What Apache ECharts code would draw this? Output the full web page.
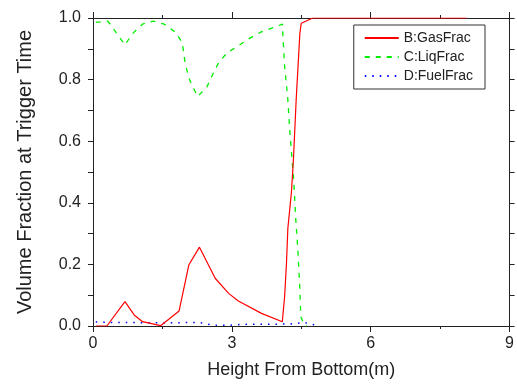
<!DOCTYPE html>
<html>
<head>
<meta charset="utf-8">
<script src="https://cdn.jsdelivr.net/npm/echarts@6/dist/echarts.min.js"></script>
<style>
html,body{margin:0;padding:0;background:#fff;}
#chart{width:517px;height:385px;}
</style>
</head>
<body>
<div id="chart"></div>
<script>
// Data
var gasX = [0.06, 0.30, 0.69, 0.89, 1.07, 1.46, 1.86, 2.07, 2.30, 2.64, 2.93, 3.14, 3.64, 4.09, 4.14, 4.18, 4.21, 4.25, 4.29, 4.33, 4.36, 4.39, 4.43, 4.47, 4.50, 4.75, 5.5, 6.5, 7.5, 8.07];
var gasFrac = [0.0, 0.0, 0.079, 0.036, 0.014, 0.001, 0.049, 0.198, 0.256, 0.155, 0.106, 0.081, 0.041, 0.014, 0.095, 0.204, 0.317, 0.377, 0.44, 0.54, 0.637, 0.735, 0.843, 0.951, 0.983, 1.0, 1.0, 1.0, 1.0, 1.0];

var liqX = [0.06, 0.32, 0.69, 0.86, 1.07, 1.30, 1.54, 1.79, 1.93, 1.99, 2.07, 2.26, 2.46, 2.57, 2.71, 2.89, 3.14, 3.36, 3.61, 3.86, 4.09, 4.14, 4.21, 4.25, 4.34, 4.38, 4.43, 4.47, 4.49, 4.57, 4.62];
var liqFrac = [0.986, 0.99, 0.913, 0.95, 0.98, 0.99, 0.98, 0.953, 0.919, 0.854, 0.805, 0.745, 0.776, 0.812, 0.854, 0.886, 0.91, 0.932, 0.953, 0.967, 0.98, 0.843, 0.735, 0.637, 0.465, 0.35, 0.237, 0.117, 0.03, 0.001, 0.0];

var fuelX = [0.06, 0.5, 1.0, 1.5, 2.0, 2.3, 2.6, 2.9, 3.2, 3.6, 4.0, 4.3, 4.57, 4.87];
var fuelFrac = [0.013, 0.011, 0.011, 0.010, 0.011, 0.011, 0.003, 0.002, 0.005, 0.006, 0.006, 0.007, 0.011, 0.001];

var seriesNames = ['B:GasFrac', 'C:LiqFrac', 'D:FuelFrac'];
var xTitle = 'Height From Bottom(m)';
var yTitle = 'Volume Fraction at Trigger Time';

function pairs(xs, ys) { return xs.map(function (x, i) { return [x, ys[i]]; }); }

var FONT = 'Liberation Sans';
var axisCol = '#222';
var chart = echarts.init(document.getElementById('chart'), null, {renderer: 'canvas'});

function xAx(pos, show) {
  return {
    type: 'value', position: pos, min: 0, max: 9, interval: 3,
    name: show ? xTitle : '', nameLocation: 'middle', nameGap: 35,
    nameTextStyle: {fontFamily: FONT, fontSize: 18, color: '#222'},
    axisLine: {show: true, onZero: false, lineStyle: {color: axisCol, width: 1}},
    axisTick: {show: true, inside: false, length: 6, lineStyle: {color: axisCol}},
    minorTick: {show: true, splitNumber: 2, length: 3, lineStyle: {color: axisCol}},
    axisLabel: {show: show, margin: 10, fontFamily: FONT, fontSize: 16, color: '#222'},
    splitLine: {show: false}
  };
}
function yAx(pos, show) {
  return {
    type: 'value', position: pos, min: 0, max: 1, interval: 0.2,
    name: show ? yTitle : '', nameLocation: 'middle', nameGap: 58, nameRotate: 90,
    nameTextStyle: {fontFamily: FONT, fontSize: 20, color: '#222'},
    axisLine: {show: true, onZero: false, lineStyle: {color: axisCol, width: 1}},
    axisTick: {show: true, inside: false, length: 5, lineStyle: {color: axisCol}},
    minorTick: {show: true, splitNumber: 2, length: 5, lineStyle: {color: axisCol}},
    axisLabel: {show: show, margin: 12, fontFamily: FONT, fontSize: 16, color: '#222',
      formatter: function (v) { return v.toFixed(1); }},
    splitLine: {show: false}
  };
}

chart.setOption({
  animation: false,
  backgroundColor: '#fff',
  grid: {left: 93, right: 4, top: 18, bottom: 59, containLabel: false},
  xAxis: [xAx('bottom', true), xAx('top', false)],
  yAxis: [yAx('left', true), yAx('right', false)],
  legend: {
    right: 32, top: 25, orient: 'vertical',
    backgroundColor: '#fff', borderColor: '#333', borderWidth: 1,
    padding: [6, 12, 6, 10], itemGap: 5, itemWidth: 34, itemHeight: 14,
    itemStyle: {opacity: 0},
    textStyle: {fontFamily: FONT, fontSize: 14, color: '#222'},
    data: seriesNames
  },
  series: [
    {name: seriesNames[0], type: 'line', data: pairs(gasX, gasFrac), symbol: 'none',
      lineStyle: {color: '#ff0000', width: 1.2, type: 'solid'}, itemStyle: {color: '#ff0000'}, z: 3},
    {name: seriesNames[1], type: 'line', data: pairs(liqX, liqFrac), symbol: 'none',
      lineStyle: {color: '#00ee00', width: 1.3, type: [5, 6]}, itemStyle: {color: '#00ee00'}, z: 2},
    {name: seriesNames[2], type: 'line', data: pairs(fuelX, fuelFrac), symbol: 'none',
      lineStyle: {color: '#0000ff', width: 1.5, type: [1.5, 6]}, itemStyle: {color: '#0000ff'}, z: 1}
  ]
});
</script>
</body>
</html>
